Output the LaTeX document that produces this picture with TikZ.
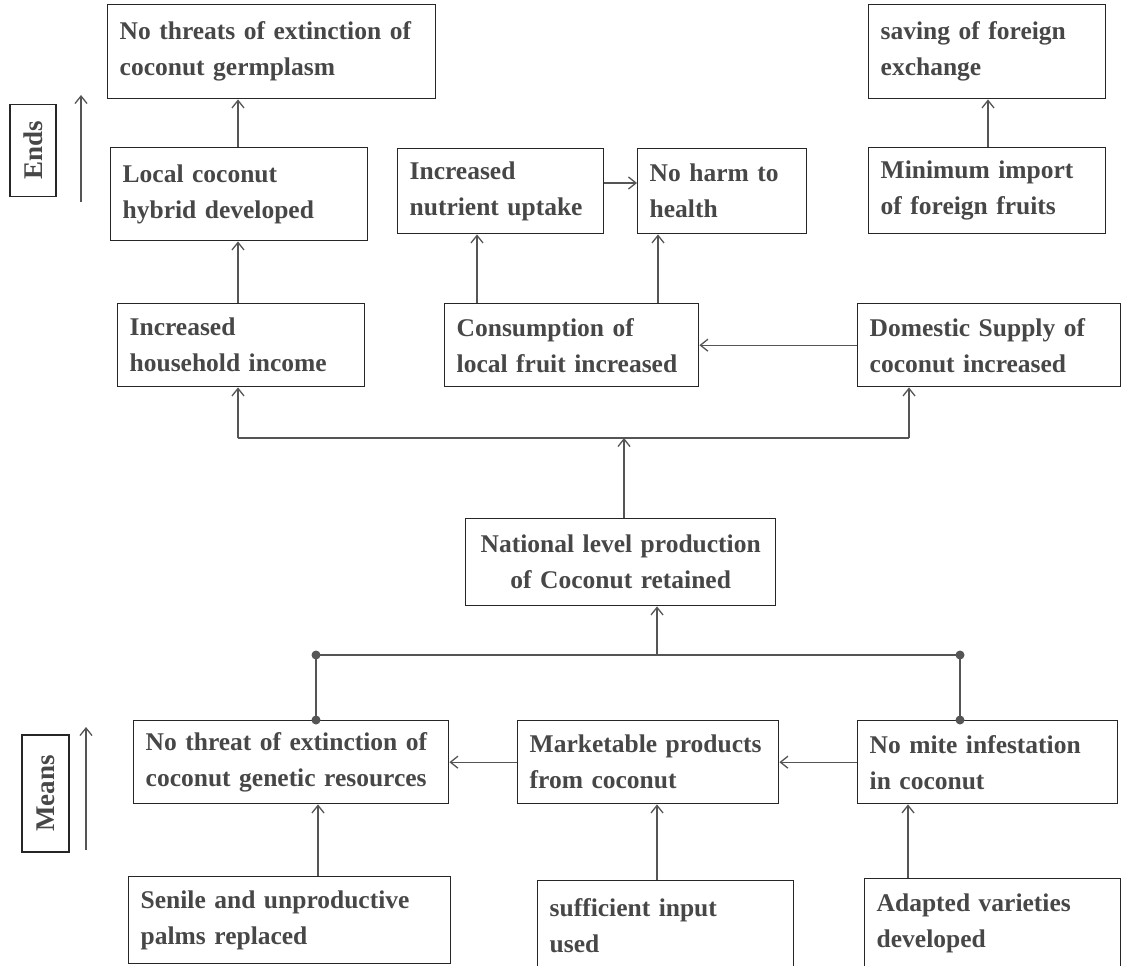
\documentclass[tikz,border=0pt]{standalone}
\usepackage{fontspec}
\setmainfont{Liberation Serif}
\usetikzlibrary{arrows.meta,calc}
\definecolor{txtc}{HTML}{474747}
\definecolor{linec}{HTML}{262626}
\definecolor{arrc}{HTML}{555555}
\begin{document}
\begin{tikzpicture}[x=1pt,y=-1pt,
  box/.style={draw=linec, line width=1.4pt, text=txtc, font=\fontsize{25.5}{36}\selectfont\bfseries,
    align=left, anchor=north west, inner xsep=12pt, inner ysep=0pt},
  arr/.style={draw=arrc, line width=1.3pt, -{Straight Barb[length=7.5pt,width=12pt]}},
  ln/.style={draw=arrc, line width=1.3pt},
  dot/.style={circle, fill=arrc, inner sep=0pt, minimum size=9pt},
  side/.style={draw=linec, line width=1.4pt, text=txtc, font=\fontsize{27}{30}\selectfont\bfseries,
    rotate=90, inner sep=0pt}]
\useasboundingbox (0,0) rectangle (1124,966);
\clip (0,0) rectangle (1124,966);

% side labels
\node[side, minimum width=92pt, minimum height=46pt] (ends) at (33,150.5) {Ends};
\node[side, minimum width=117pt, minimum height=47pt] (means) at (45.5,793.5) {Means};
\coordinate (e1) at (81,202); \coordinate (e2) at (81,95);
\coordinate (m1) at (86,850); \coordinate (m2) at (86,727);
\draw[arr] (e1) -- (e2);
\draw[arr] (m1) -- (m2);

% top rows
\node[box, text width=304pt, minimum height=94pt] (b1) at (107,4) {No threats of extinction of\\coconut germplasm};
\node[box, text width=213pt, minimum height=94pt] (b5) at (868,4) {saving of foreign\\exchange};
\node[box, text width=233pt, minimum height=93pt] (b2) at (110,147) {Local coconut\\hybrid developed};
\node[box, text width=182pt, minimum height=85pt] (b3) at (397,148) {Increased\\nutrient uptake};
\node[box, text width=145pt, minimum height=85pt] (b4) at (637,148) {No harm to\\health};
\node[box, text width=213pt, minimum height=86pt] (b6) at (868,147) {Minimum import\\of foreign fruits};
\node[box, text width=223pt, minimum height=83pt] (b7) at (117,303) {Increased\\household income};
\node[box, text width=230pt, minimum height=83pt] (b8) at (444,303) {Consumption of\\local fruit increased};
\node[box, text width=239pt, minimum height=83pt] (b9) at (857,303) {Domestic Supply of\\coconut increased};

% middle
\node[box, align=center, inner xsep=10pt, text width=290pt, minimum height=87pt] (b10) at (465,518) {National level production\\of Coconut retained};

% means rows
\node[box, text width=291pt, minimum height=83pt] (b11) at (133,720) {No threat of extinction of\\coconut genetic resources};
\node[box, text width=237pt, minimum height=83pt] (b12) at (517,720) {Marketable products\\from coconut};
\node[box, text width=236pt, minimum height=83pt] (b13) at (857,720) {No mite infestation\\in coconut};
\node[box, text width=298pt, minimum height=87pt] (b14) at (128,876) {Senile and unproductive\\palms replaced};
\node[box, text width=232pt, minimum height=90pt] (b15) at (537,880) {sufficient input\\used};
\node[box, text width=232pt, minimum height=90pt] (b16) at (864,878) {Adapted varieties\\developed};

% ends connectors
\draw[arr] (238,0 |- b2.north) -- (238,0 |- b1.south);
\draw[arr] (988,0 |- b6.north) -- (988,0 |- b5.south);
\draw[arr] (0,183 -| b3.east) -- (0,183 -| b4.west);
\draw[arr] (238,0 |- b7.north) -- (238,0 |- b2.south);
\draw[arr] (477,0 |- b8.north) -- (477,0 |- b3.south);
\draw[arr] (658,0 |- b8.north) -- (658,0 |- b4.south);
\draw[arr] (b9.west) -- (b8.east);

% bus 1
\coordinate (bus1l) at (238,438);
\coordinate (bus1r) at (909,438);
\coordinate (bus1m) at (624,438);
\draw[ln] (bus1l) -- (bus1r);
\draw[arr] (bus1l) -- (bus1l |- b7.south);
\draw[arr] (bus1r) -- (bus1r |- b9.south);
\draw[arr] (bus1m |- b10.north) -- (bus1m);

% bus 2
\coordinate (bus2l) at (316,655);
\coordinate (bus2r) at (960,655);
\coordinate (bus2m) at (657,655);
\draw[ln] (bus2l) -- (bus2r);
\draw[arr] (bus2m) -- (bus2m |- b10.south);
\draw[ln] (bus2l) -- (bus2l |- b11.north);
\draw[ln] (bus2r) -- (bus2r |- b13.north);
\node[dot] (d1) at (bus2l) {};
\node[dot] (d2) at (bus2r) {};
\node[dot] (d3) at (bus2l |- b11.north) {};
\node[dot] (d4) at (bus2r |- b13.north) {};

% means connectors
\draw[arr] (b13.west) -- (b12.east);
\draw[arr] (b12.west) -- (b11.east);
\draw[arr] (318,0 |- b14.north) -- (318,0 |- b11.south);
\draw[arr] (657,0 |- b15.north) -- (657,0 |- b12.south);
\draw[arr] (908,0 |- b16.north) -- (908,0 |- b13.south);
\end{tikzpicture}
\end{document}
